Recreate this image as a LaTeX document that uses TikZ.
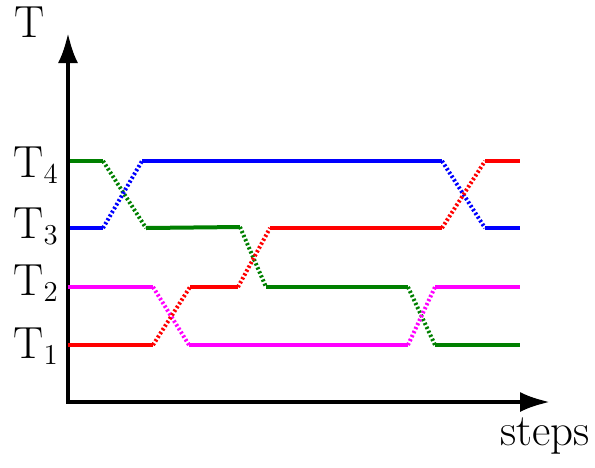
\documentclass[tikz,border=0pt]{standalone}
\usepackage{tikz}
\usetikzlibrary{arrows.meta}
\definecolor{pmagenta}{RGB}{255,0,255}

\begin{document}
\begin{tikzpicture}[x=0.5pt,y=-0.5pt,
  ax/.style={line width=2pt,-{Latex[length=15pt,width=10pt]}},
  lvl/.style={line width=2pt},
  sw/.style={line width=2pt,dash pattern=on 1.1pt off 1.1pt},
  lbl/.style={font=\fontsize{22.5}{26}\selectfont,inner sep=0pt}]
  \useasboundingbox (0,0) rectangle (595,467);
  % axes
  \coordinate (o) at (68,402);
  \coordinate (ytop) at (68,33);
  \coordinate (xend) at (550,402);
  \draw[ax] (o) -- (ytop);
  \draw[ax] ([xshift=-1pt]o) -- (xend);
  \node[lbl,anchor=base] (tlab) at (30,37) {T};
  \node[lbl,anchor=base] (slab) at (545,445) {steps};
  \node[lbl,anchor=base east] (t4) at (59,177) {T$_4$};
  \node[lbl,anchor=base east] (t3) at (59,238) {T$_3$};
  \node[lbl,anchor=base east] (t2) at (59,295) {T$_2$};
  \node[lbl,anchor=base east] (t1) at (59,358) {T$_1$};
  % green
  \draw[lvl,green!50!black] (70,161) -- (103,161);
  \draw[sw,green!50!black] (103,161) -- (146,228);
  \draw[lvl,green!50!black] (146,228) -- (240,227);
  \draw[sw,green!50!black] (240,227) -- (266,287);
  \draw[lvl,green!50!black] (266,287) -- (408,287);
  \draw[sw,green!50!black] (408,287) -- (435,345);
  \draw[lvl,green!50!black] (435,345) -- (520,345);
  % blue
  \draw[lvl,blue] (70,228) -- (103,228);
  \draw[sw,blue] (103,228) -- (142,161);
  \draw[lvl,blue] (142,161) -- (442,161);
  \draw[sw,blue] (442,161) -- (485,228);
  \draw[lvl,blue] (485,228) -- (520,228);
  % magenta
  \draw[lvl,pmagenta] (68,287) -- (153,287);
  \draw[sw,pmagenta] (153,287) -- (189,345);
  \draw[lvl,pmagenta] (189,345) -- (408,345);
  \draw[sw,pmagenta] (408,345) -- (435,287);
  \draw[lvl,pmagenta] (435,287) -- (520,287);
  % red
  \draw[lvl,red] (68,345) -- (153,345);
  \draw[sw,red] (153,345) -- (190,287);
  \draw[lvl,red] (190,287) -- (238,287);
  \draw[sw,red] (238,287) -- (270,228);
  \draw[lvl,red] (270,228) -- (442,228);
  \draw[sw,red] (442,228) -- (485,161);
  \draw[lvl,red] (485,161) -- (520,161);
\end{tikzpicture}
\end{document}
